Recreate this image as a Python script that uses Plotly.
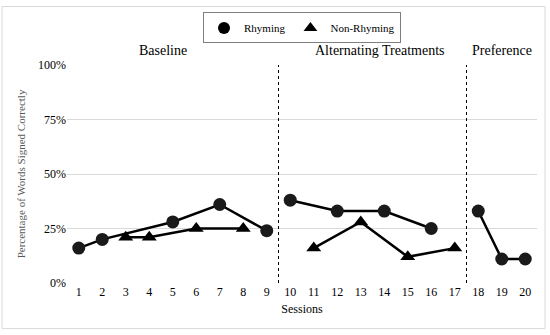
import plotly.graph_objects as go

sessions = list(range(1, 21))
# Rhyming (phases separated by None)
rhy_x = [1, 2, 5, 7, 9, None, 10, 12, 14, 16, None, 18, 19, 20]
rhy_y = [16, 20, 28, 36, 24, None, 38, 33, 33, 25, None, 33, 11, 11]
# Non-Rhyming
non_x = [3, 4, 6, 8, None, 11, 13, 15, 17]
non_y = [21, 21, 25, 25, None, 16, 28, 12, 16]
phase_names = ["Baseline", "Alternating Treatments", "Preference"]
phase_label_x = [4.6, 13.8, 19.0]
phase_breaks = [9.5, 17.5]
y_ticks = [0, 25, 50, 75, 100]

FONT = "Liberation Serif"
L, R, T, B = 67, 13, 63, 52
W, H = 550, 335
pw, ph = W - L - R, H - T - B

fig = go.Figure()
fig.add_trace(go.Scatter(x=rhy_x, y=rhy_y, mode="lines+markers", showlegend=False,
                         line=dict(color="black", width=2.5),
                         marker=dict(symbol="circle", size=13, color="#1a1a1a")))
fig.add_trace(go.Scatter(x=non_x, y=non_y, mode="lines+markers", showlegend=False,
                         line=dict(color="black", width=2.5),
                         marker=dict(symbol="triangle-up", size=13, color="black")))
fig.add_trace(go.Scatter(x=[None], y=[None], mode="markers", name="Rhyming",
                         marker=dict(symbol="circle", size=14, color="black")))
fig.add_trace(go.Scatter(x=[None], y=[None], mode="markers", name="Non-Rhyming",
                         marker=dict(symbol="triangle-up", size=14, color="black")))

shapes = []
for b in phase_breaks:
    shapes.append(dict(type="line", xref="x", yref="paper", x0=b, x1=b, y0=0, y1=1,
                       line=dict(color="black", width=1, dash="dot")))
shapes.append(dict(type="rect", xref="paper", yref="paper",
                   x0=(2 - L) / pw, x1=(545 - L) / pw,
                   y0=-(329 - (T + ph)) / ph, y1=1 + (T - 4) / ph,
                   line=dict(color="#d9d9d9", width=1)))

annotations = []
for name, px in zip(phase_names, phase_label_x):
    annotations.append(dict(text=name, x=px, y=1 + (T - 48) / ph, xref="x", yref="paper",
                            showarrow=False, font=dict(family=FONT, size=14, color="black"),
                            yanchor="middle"))

fig.update_layout(
    width=W, height=H,
    margin=dict(l=L, r=R, t=T, b=B),
    paper_bgcolor="white", plot_bgcolor="white",
    font=dict(family=FONT, color="black", size=12),
    shapes=shapes, annotations=annotations,
    legend=dict(orientation="h", x=0.5, xanchor="center", y=1 + (T - 10) / ph, yanchor="top",
                bordercolor="#7f7f7f", borderwidth=1, font=dict(family=FONT, size=11),
                itemsizing="constant", tracegroupgap=0),
    xaxis=dict(range=[0.5, 20.5], tickvals=sessions, ticktext=[str(s) for s in sessions],
               showgrid=False, zeroline=False, showline=False, ticks="",
               title=dict(text="Sessions", font=dict(family=FONT, size=12), standoff=6),
               tickfont=dict(family=FONT, size=12)),
    yaxis=dict(range=[0, 100], tickvals=y_ticks, ticktext=[f"{v}%" for v in y_ticks],
               showgrid=True, gridcolor="#d9d9d9", gridwidth=1, zeroline=False,
               showline=False, ticks="",
               title=dict(text="Percentage of Words Signed Correctly",
                          font=dict(family=FONT, size=11, color="#595959"), standoff=10),
               tickfont=dict(family=FONT, size=12)),
)

fig.write_html("out.html", config={"displayModeBar": False},
               post_script="document.body.style.margin='0px';document.body.style.padding='0px';")
